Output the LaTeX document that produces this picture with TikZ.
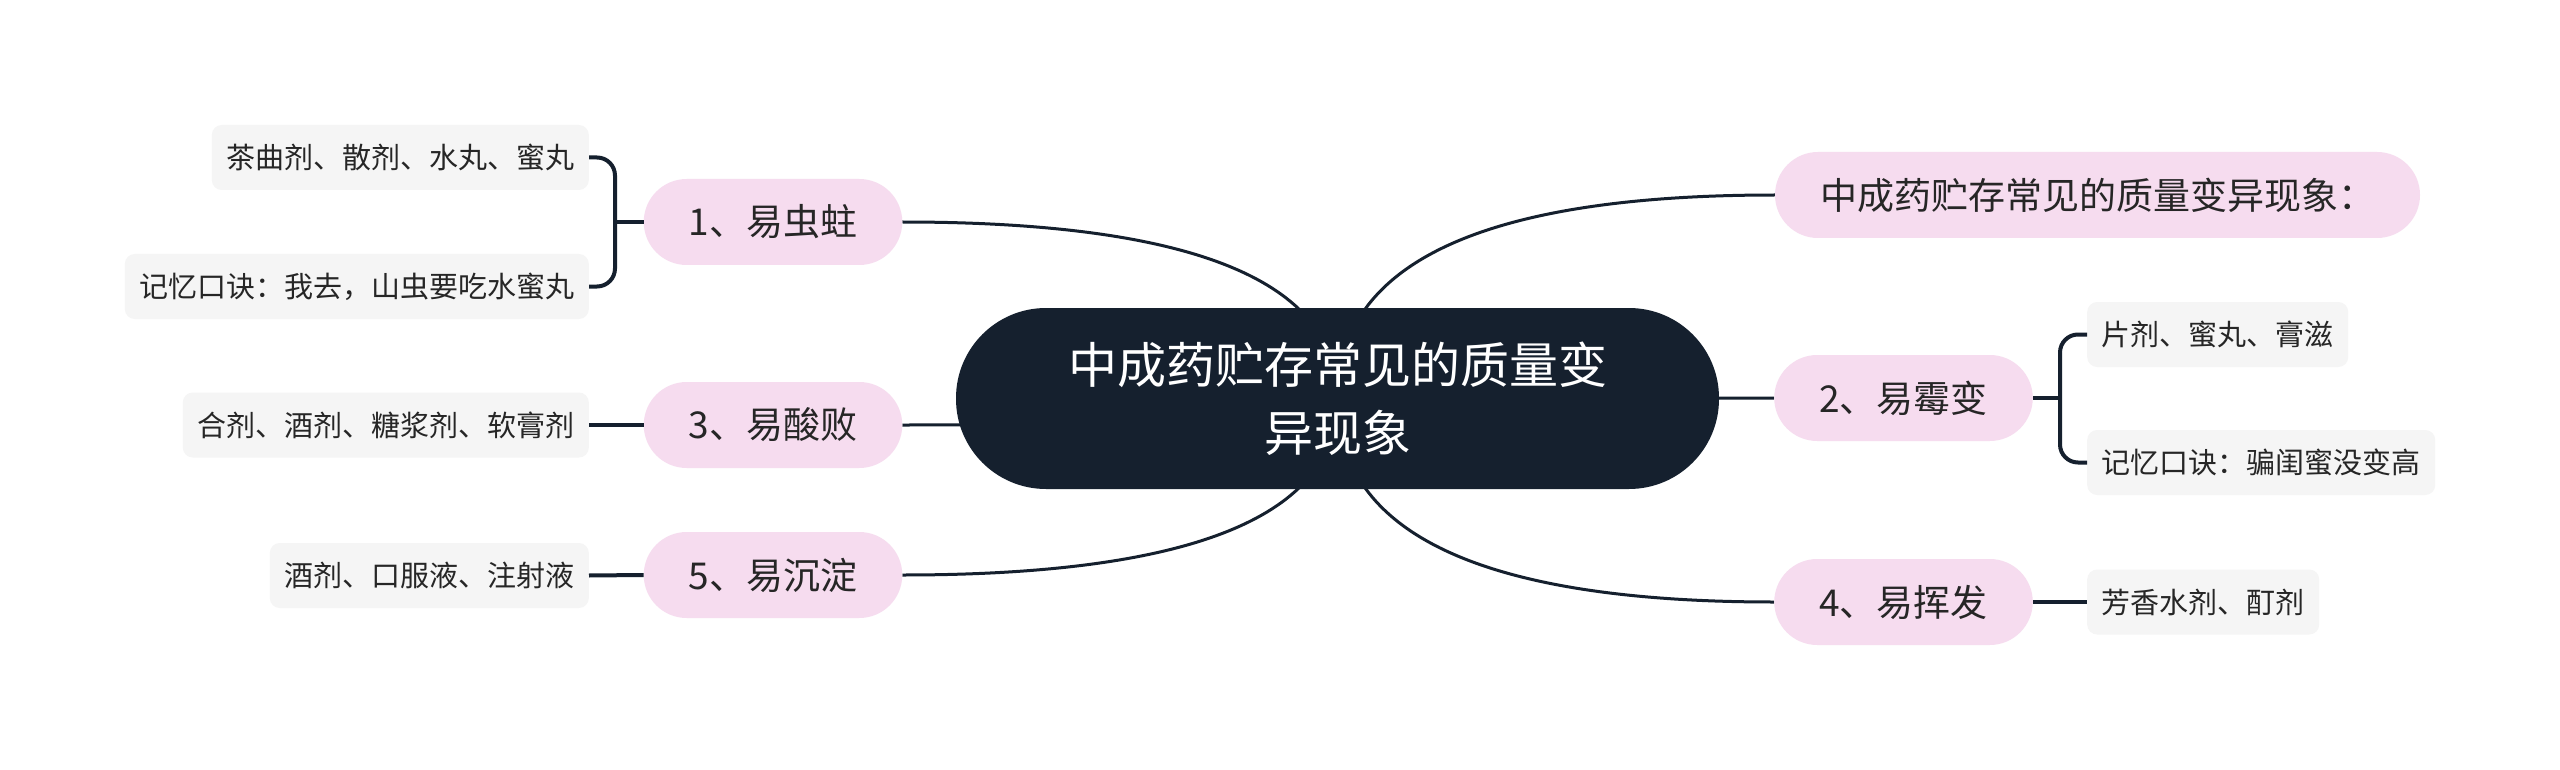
\documentclass[tikz,border=0pt]{standalone}
\usepackage{fontspec}
\setmainfont{Noto Sans CJK SC}
\usepackage{tikz}
\usetikzlibrary{backgrounds,calc}

\definecolor{rootblue}{HTML}{15202E}
\definecolor{topicpink}{HTML}{F6DCEF}
\definecolor{leafgray}{HTML}{F5F5F5}
\definecolor{inkdark}{HTML}{262626}

\begin{document}
\begin{tikzpicture}[x=1pt, y=-1pt,
    root/.style={rectangle, rounded corners=90pt, fill=rootblue, text=white, minimum width=763pt, minimum height=181pt, inner ysep=0pt, align=center, font=\fontsize{49}{68}\selectfont},
    topic/.style={rectangle, rounded corners=43pt, fill=topicpink, text=inkdark, minimum height=86pt, inner xsep=45pt, inner ysep=0pt, font=\fontsize{37}{44}\selectfont},
    leaf/.style={rectangle, rounded corners=10pt, fill=leafgray, text=inkdark, minimum height=65pt, inner xsep=14.5pt, inner ysep=0pt, font=\fontsize{29}{35}\selectfont},
    link/.style={draw=rootblue, line width=3pt},
    stub/.style={draw=rootblue, line width=4pt, rounded corners=18pt}]
    \useasboundingbox (0,0) rectangle (2560,770);

    % Central topic
    \node (root) at (1337.5,398.5) [root] {中成药贮存常见的质量变\\异现象};

    % Main branches, right side
    \node (mt) at (2097.5,195) [topic] {中成药贮存常见的质量变异现象：};
    \node (m2) at (1903.5,398) [topic] {2、易霉变};
    \node (m4) at (1903.5,602) [topic] {4、易挥发};

    % Main branches, left side
    \node (m1) at (773,222) [topic] {1、易虫蛀};
    \node (m3) at (773,425) [topic] {3、易酸败};
    \node (m5) at (773,575) [topic] {5、易沉淀};

    % Details
    \node (l1a) at (589,157.5) [leaf, anchor=east] {茶曲剂、散剂、水丸、蜜丸};
    \node (l1b) at (589,286.5) [leaf, anchor=east] {记忆口诀：我去，山虫要吃水蜜丸};
    \node (l3) at (589,425) [leaf, anchor=east] {合剂、酒剂、糖浆剂、软膏剂};
    \node (l5) at (589,575.5) [leaf, anchor=east] {酒剂、口服液、注射液};
    \node (r2a) at (2087,334.5) [leaf, anchor=west] {片剂、蜜丸、膏滋};
    \node (r2b) at (2087,462.5) [leaf, anchor=west] {记忆口诀：骗闺蜜没变高};
    \node (r4) at (2087,602) [leaf, anchor=west] {芳香水剂、酊剂};

    % Bracket joints
    \coordinate (j1) at (615,222);
    \coordinate (j2) at (2060,398);

    \begin{pgfonlayer}{background}
        \fill[white] (0,0) rectangle (2560,770);
        % Curved links from the centre (quadratic, bend above/below the centre)
        \foreach \m/\a in {mt/west,m2/west,m4/west,m1/east,m3/east,m5/east} {
            \coordinate (c) at (root.center |- \m.\a);
            \draw[link] (root.center) .. controls ($(root.center)!2/3!(c)$) and ($(\m.\a)!2/3!(c)$) .. (\m.\a);
        }
    \end{pgfonlayer}

    % Links to details
    \draw[stub] (m1.west) -- (j1);
    \draw[stub] (l1a.east) -| (j1) |- (l1b.east);
    \draw[stub] (m3.west) -- (l3.east);
    \draw[stub] (m5.west) -- (l5.east);
    \draw[stub] (m2.east) -- (j2);
    \draw[stub] (r2a.west) -| (j2) |- (r2b.west);
    \draw[stub] (m4.east) -- (r4.west);
\end{tikzpicture}
\end{document}
